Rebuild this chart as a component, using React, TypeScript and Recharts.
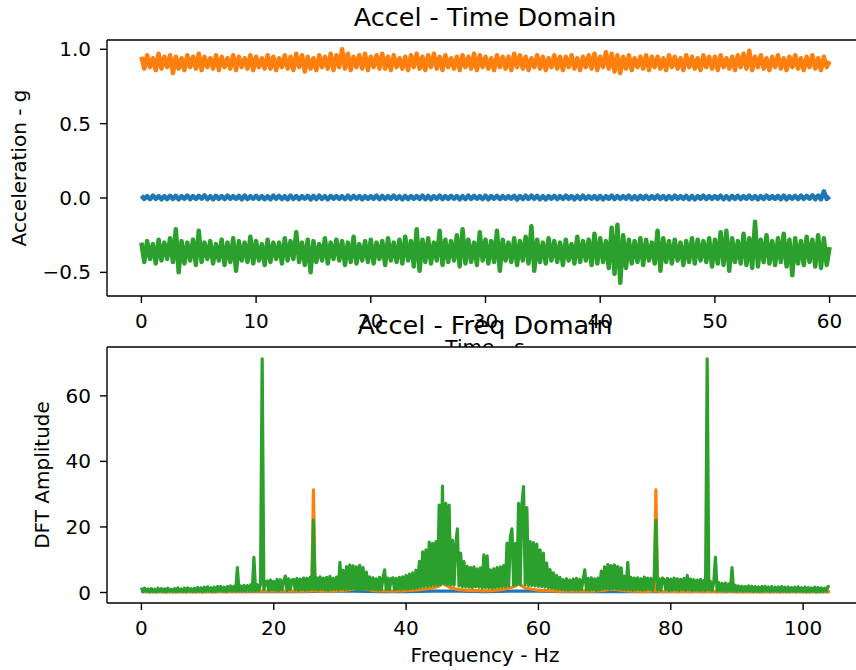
import { LineChart, Line, XAxis, YAxis, ReferenceLine } from 'recharts';

// matplotlib tab10
const C_BLUE = '#1f77b4';
const C_ORANGE = '#ff7f0e';
const C_GREEN = '#2ca02c';
const FONT = 'DejaVu Sans';

// ---- time domain: samples every 0.25 s, 0..60 s ----
const TIME_STEP = 0.25;

const ACC_X = [
  0.015, -0.006, 0.012, -0.008, 0.016, -0.005, 0.013, -0.009,
  0.012, -0.007, 0.015, -0.006, 0.014, -0.009, 0.012, -0.005,
  0.016, -0.008, 0.013, -0.006, 0.014, -0.005, 0.018, -0.008,
  0.012, -0.009, 0.015, -0.006, 0.013, -0.007, 0.016, -0.005,
  0.012, -0.006, 0.014, -0.009, 0.016, -0.007, 0.012, -0.005,
  0.015, -0.006, 0.013, -0.008, 0.012, -0.009, 0.016, -0.005,
  0.014, -0.007, 0.012, -0.009, 0.016, -0.006, 0.013, -0.008,
  0.012, -0.005, 0.015, -0.010, 0.014, -0.007, 0.016, -0.006,
  0.012, -0.009, 0.014, -0.005, 0.013, -0.006, 0.012, -0.008,
  0.016, -0.007, 0.014, -0.005, 0.013, -0.009, 0.012, -0.006,
  0.012, -0.005, 0.016, -0.008, 0.014, -0.007, 0.013, -0.005,
  0.016, -0.006, 0.012, -0.009, 0.014, -0.007, 0.013, -0.005,
  0.012, -0.006, 0.016, -0.008, 0.014, -0.009, 0.013, -0.005,
  0.016, -0.007, 0.012, -0.006, 0.014, -0.005, 0.013, -0.009,
  0.012, -0.008, 0.016, -0.006, 0.014, -0.005, 0.012, -0.007,
  0.016, -0.009, 0.013, -0.005, 0.014, -0.007, 0.012, -0.006,
  0.012, -0.005, 0.014, -0.010, 0.013, -0.007, 0.016, -0.006,
  0.016, -0.005, 0.014, -0.008, 0.012, -0.009, 0.013, -0.005,
  0.014, -0.007, 0.012, -0.006, 0.016, -0.005, 0.013, -0.009,
  0.014, -0.007, 0.016, -0.006, 0.012, -0.005, 0.013, -0.008,
  0.014, -0.009, 0.012, -0.005, 0.016, -0.007, 0.013, -0.006,
  0.013, -0.005, 0.016, -0.008, 0.012, -0.009, 0.014, -0.006,
  0.014, -0.007, 0.012, -0.005, 0.016, -0.006, 0.013, -0.009,
  0.013, -0.007, 0.016, -0.005, 0.012, -0.006, 0.014, -0.008,
  0.014, -0.009, 0.012, -0.005, 0.016, -0.007, 0.013, -0.006,
  0.013, -0.005, 0.016, -0.008, 0.012, -0.009, 0.014, -0.006,
  0.014, -0.007, 0.012, -0.005, 0.016, -0.006, 0.013, -0.009,
  0.013, -0.007, 0.016, -0.005, 0.012, -0.006, 0.014, -0.008,
  0.016, -0.009, 0.012, -0.005, 0.014, -0.007, 0.016, -0.006,
  0.014, -0.005, 0.018, -0.008, 0.016, -0.009, 0.045, -0.006,
  0.010,
];

const ACC_Y = [
  0.95, 0.87, 0.96, 0.88, 0.94, 0.86, 0.97, 0.87,
  0.95, 0.88, 0.96, 0.84, 0.95, 0.87, 0.94, 0.86,
  0.96, 0.88, 0.95, 0.87, 0.97, 0.86, 0.95, 0.88,
  0.94, 0.87, 0.96, 0.86, 0.95, 0.88, 0.94, 0.87,
  0.96, 0.86, 0.95, 0.88, 0.94, 0.87, 0.96, 0.86,
  0.95, 0.88, 0.94, 0.87, 0.96, 0.87, 0.95, 0.86,
  0.94, 0.88, 0.96, 0.87, 0.95, 0.86, 0.97, 0.88,
  0.96, 0.85, 0.95, 0.87, 0.94, 0.86, 0.96, 0.88,
  0.95, 0.87, 0.97, 0.86, 0.96, 0.88, 1.00, 0.87,
  0.97, 0.86, 0.95, 0.88, 0.96, 0.87, 0.97, 0.86,
  0.95, 0.88, 0.96, 0.87, 0.97, 0.87, 0.95, 0.86,
  0.96, 0.88, 0.94, 0.87, 0.95, 0.86, 0.96, 0.88,
  0.97, 0.87, 0.95, 0.86, 0.96, 0.88, 0.97, 0.87,
  0.95, 0.86, 0.96, 0.88, 0.94, 0.87, 0.95, 0.86,
  0.96, 0.88, 0.95, 0.87, 0.97, 0.86, 0.96, 0.88,
  0.95, 0.87, 0.94, 0.86, 0.96, 0.88, 0.95, 0.87,
  0.95, 0.86, 0.97, 0.88, 0.96, 0.87, 0.95, 0.86,
  0.94, 0.88, 0.96, 0.87, 0.95, 0.86, 0.94, 0.88,
  0.96, 0.87, 0.95, 0.86, 0.95, 0.88, 0.96, 0.87,
  0.94, 0.86, 0.95, 0.88, 0.96, 0.87, 0.97, 0.86,
  0.95, 0.88, 0.98, 0.87, 0.97, 0.85, 0.96, 0.84,
  0.95, 0.87, 0.96, 0.86, 0.94, 0.88, 0.95, 0.87,
  0.96, 0.86, 0.95, 0.88, 0.95, 0.87, 0.94, 0.86,
  0.96, 0.88, 0.95, 0.87, 0.94, 0.86, 0.96, 0.88,
  0.95, 0.87, 0.94, 0.86, 0.96, 0.88, 0.95, 0.87,
  0.95, 0.86, 0.96, 0.88, 0.94, 0.87, 0.95, 0.86,
  0.96, 0.88, 0.97, 0.87, 0.99, 0.86, 0.95, 0.88,
  0.96, 0.87, 0.94, 0.86, 0.95, 0.88, 0.96, 0.87,
  0.94, 0.86, 0.95, 0.88, 0.96, 0.87, 0.94, 0.86,
  0.95, 0.88, 0.96, 0.87, 0.94, 0.86, 0.95, 0.88,
  0.92,
];

const ACC_Z = [
  -0.30, -0.43, -0.29, -0.41, -0.31, -0.44, -0.28, -0.42,
  -0.30, -0.41, -0.27, -0.43, -0.21, -0.50, -0.29, -0.44,
  -0.30, -0.42, -0.28, -0.45, -0.22, -0.43, -0.30, -0.41,
  -0.29, -0.44, -0.31, -0.42, -0.28, -0.45, -0.30, -0.43,
  -0.27, -0.49, -0.29, -0.42, -0.30, -0.43, -0.26, -0.44,
  -0.29, -0.42, -0.31, -0.45, -0.28, -0.43, -0.30, -0.41,
  -0.30, -0.44, -0.27, -0.42, -0.29, -0.41, -0.23, -0.43,
  -0.30, -0.45, -0.28, -0.50, -0.29, -0.43, -0.31, -0.42,
  -0.27, -0.44, -0.30, -0.41, -0.28, -0.42, -0.29, -0.45,
  -0.30, -0.43, -0.26, -0.44, -0.31, -0.42, -0.29, -0.43,
  -0.28, -0.44, -0.30, -0.41, -0.29, -0.45, -0.27, -0.42,
  -0.30, -0.43, -0.28, -0.44, -0.26, -0.42, -0.29, -0.46,
  -0.21, -0.49, -0.28, -0.43, -0.27, -0.44, -0.30, -0.42,
  -0.22, -0.45, -0.28, -0.43, -0.29, -0.42, -0.25, -0.46,
  -0.21, -0.44, -0.28, -0.43, -0.30, -0.45, -0.23, -0.42,
  -0.28, -0.44, -0.29, -0.43, -0.22, -0.49, -0.28, -0.42,
  -0.30, -0.43, -0.27, -0.45, -0.29, -0.42, -0.26, -0.44,
  -0.19, -0.49, -0.28, -0.43, -0.30, -0.44, -0.27, -0.42,
  -0.29, -0.43, -0.30, -0.45, -0.28, -0.42, -0.31, -0.44,
  -0.26, -0.43, -0.29, -0.42, -0.28, -0.45, -0.24, -0.44,
  -0.27, -0.43, -0.29, -0.47, -0.20, -0.51, -0.18, -0.57,
  -0.25, -0.47, -0.28, -0.44, -0.29, -0.43, -0.27, -0.45,
  -0.28, -0.42, -0.30, -0.44, -0.22, -0.49, -0.27, -0.43,
  -0.29, -0.44, -0.28, -0.42, -0.30, -0.45, -0.29, -0.43,
  -0.27, -0.44, -0.28, -0.42, -0.29, -0.43, -0.27, -0.46,
  -0.28, -0.44, -0.23, -0.45, -0.22, -0.49, -0.27, -0.43,
  -0.29, -0.44, -0.24, -0.45, -0.27, -0.47, -0.16, -0.46,
  -0.28, -0.43, -0.25, -0.44, -0.29, -0.45, -0.27, -0.43,
  -0.24, -0.46, -0.28, -0.52, -0.27, -0.44, -0.29, -0.45,
  -0.26, -0.43, -0.28, -0.46, -0.25, -0.47, -0.27, -0.45,
  -0.33,
];

const TIME_TICKS = [0, 10, 20, 30, 40, 50, 60];
const ACC_TICKS = [-0.5, 0, 0.5, 1.0];

// ---- frequency domain ----
// z axis on a 0.25 Hz grid, 0..104 Hz
const FREQ_STEP = 0.25;
const DFT_Z = [
  1.5, 0.3, 1.3, 0.4, 1.1, 0.2, 1.2, 0.3, 1.0, 0.2, 1.3, 0.4,
  1.2, 0.3, 1.1, 0.2, 1.3, 0.4, 1.0, 0.3, 1.2, 0.2, 1.4, 0.4,
  1.1, 0.3, 1.3, 0.2, 1.4, 0.4, 1.2, 0.3, 1.3, 0.3, 1.5, 0.4,
  1.4, 0.2, 1.6, 0.4, 1.7, 0.4, 1.5, 0.3, 1.6, 0.3, 1.8, 0.5,
  1.9, 0.4, 1.6, 0.3, 1.8, 0.5, 2.0, 0.4, 1.9, 0.4, 7.6, 0.5,
  2.0, 0.4, 2.2, 0.5, 2.1, 0.6, 2.3, 0.5, 10.7, 0.5, 2.4, 0.6,
  2.6, 71.3, 0.8, 3.2, 3.5, 0.6, 3.8, 0.8, 3.4, 0.7, 4.0, 0.6,
  3.9, 0.8, 3.6, 5.0, 0.6, 4.2, 0.9, 3.8, 4.0, 0.8, 4.3, 0.7,
  4.1, 0.9, 4.4, 0.7, 4.3, 0.8, 4.6, 1.0, 22.1, 0.9, 4.5, 0.8,
  4.8, 1.0, 4.4, 0.8, 4.6, 0.7, 4.9, 0.9, 4.3, 1.0, 4.7, 0.8,
  9.2, 1.1, 6.8, 0.9, 7.9, 1.0, 8.4, 1.2, 8.1, 1.1, 7.8, 1.0,
  8.3, 0.9, 7.6, 1.1, 6.2, 0.8, 4.8, 1.0, 4.5, 0.9, 4.2, 0.7,
  4.6, 0.8, 4.3, 6.9, 0.8, 4.4, 0.9, 4.2, 4.5, 0.8, 4.3, 1.0,
  4.6, 0.9, 4.8, 1.1, 5.2, 1.0, 5.6, 1.2, 6.0, 1.3, 6.8, 1.4,
  9.5, 1.6, 12.4, 1.8, 13.0, 1.9, 15.4, 2.0, 15.0, 2.2, 15.5, 2.3,
  26.7, 2.4, 32.5, 2.6, 27.2, 2.5, 26.7, 2.3, 16.0, 2.2, 14.5, 19.4,
  2.0, 12.0, 1.8, 9.4, 1.7, 8.0, 1.6, 7.6, 1.5, 7.8, 1.7, 7.2,
  1.6, 7.5, 1.4, 11.5, 1.5, 11.2, 1.4, 6.9, 1.3, 7.2, 1.5, 7.6,
  1.6, 7.8, 1.7, 8.2, 1.8, 15.1, 2.0, 17.0, 19.4, 2.2, 15.0, 2.3,
  27.2, 2.4, 26.9, 32.3, 2.4, 25.9, 2.2, 15.5, 2.1, 15.2, 2.0, 14.8,
  1.9, 13.0, 1.8, 12.0, 1.6, 9.0, 1.4, 7.0, 1.3, 6.0, 1.1, 5.2,
  1.0, 4.6, 0.9, 3.9, 0.8, 4.2, 0.7, 3.8, 0.9, 4.1, 0.8, 4.3,
  0.7, 4.0, 0.9, 3.8, 6.9, 0.8, 4.3, 0.7, 4.5, 0.9, 4.2, 0.6,
  4.4, 0.8, 6.5, 1.0, 7.8, 1.1, 8.5, 1.0, 8.2, 1.2, 8.4, 1.1,
  7.9, 1.0, 7.5, 0.9, 5.0, 0.8, 9.2, 0.9, 4.6, 0.7, 4.4, 0.8,
  4.5, 0.9, 4.2, 0.7, 4.7, 0.8, 4.4, 1.0, 4.3, 0.7, 4.5, 22.1,
  0.8, 4.2, 0.7, 4.4, 4.0, 0.8, 4.3, 0.6, 4.1, 0.7, 4.4, 0.8,
  4.2, 0.6, 4.0, 0.9, 4.3, 0.7, 5.2, 0.8, 4.1, 0.6, 3.9, 0.7,
  3.8, 0.6, 4.0, 0.7, 3.6, 0.6, 71.3, 0.8, 3.4, 0.6, 3.2, 10.7,
  0.5, 3.0, 0.6, 2.8, 0.5, 2.9, 0.4, 2.6, 0.5, 7.6, 0.4, 2.2,
  0.4, 2.0, 0.5, 1.9, 0.4, 1.8, 0.5, 2.0, 0.4, 1.9, 0.3, 1.8,
  0.4, 1.7, 0.3, 1.8, 0.4, 1.9, 0.5, 1.7, 0.3, 1.8, 0.4, 1.6,
  0.4, 1.7, 0.3, 1.8, 0.4, 1.6, 0.3, 1.7, 0.3, 1.5, 0.4, 1.6,
  0.3, 1.7, 0.4, 1.5, 0.3, 1.6, 0.2, 1.5, 0.3, 1.4, 0.4, 1.6,
  0.2, 1.5, 0.3, 1.4, 0.3, 1.3, 0.4, 1.8,
  1.6,
];

// y axis: sparse sampling plus the two narrow peaks
const DFT_Y_FREQ = [
  0, 1, 2, 3, 4, 5, 6, 7, 8, 9, 10, 11, 12, 13, 14, 15, 16, 17, 18, 19, 20,
  21, 22, 23, 24, 25, 25.75, 26, 26.25, 27, 28, 29, 30, 31, 32, 33, 34, 35,
  36, 37, 38, 39, 40, 41, 42, 43, 44, 45, 45.5, 46, 46.5, 47, 48, 49, 50,
  51, 52, 53, 54, 55, 56, 56.5, 57, 57.5, 58, 59, 60, 61, 62, 63, 64, 65,
  66, 67, 68, 69, 70, 71, 72, 73, 74, 75, 76, 77, 77.5, 77.75, 78, 79, 80,
  81, 82, 83, 84, 85, 86, 87, 88, 89, 90, 91, 92, 93, 94, 95, 96, 97, 98,
  99, 100, 101, 102, 103, 104,
];
const DFT_Y = [
  0.4, 0.3, 0.3, 0.3, 0.3, 0.3, 0.3, 0.3, 0.3, 0.3, 0.3, 0.3, 0.4, 0.3, 0.4, 0.3, 0.4, 0.4, 0.4, 0.4, 0.4,
  0.4, 0.4, 0.4, 0.4, 0.4, 0.5, 31.3, 0.5, 0.5, 0.4, 0.5, 0.6, 0.7, 1.1, 1.3, 1.0, 0.6,
  0.5, 0.5, 0.4, 0.5, 0.6, 0.7, 0.9, 1.1, 1.4, 2.0, 3.1, 2.2, 1.7, 1.3, 0.9, 0.7, 0.6,
  0.6, 0.5, 0.6, 0.8, 1.1, 1.6, 2.0, 2.9, 2.0, 1.4, 1.0, 0.7, 0.6, 0.5, 0.4, 0.4, 0.5,
  0.4, 0.5, 0.4, 0.5, 0.7, 1.0, 0.9, 0.6, 0.4, 0.4, 0.3, 0.4, 0.4, 31.3, 0.4, 0.3, 0.4,
  0.3, 0.4, 0.3, 0.4, 0.3, 0.4, 0.3, 0.3, 0.4, 0.3, 0.3, 0.3, 0.3, 0.3, 0.3, 0.3, 0.3, 0.3,
  0.3, 0.3, 0.3, 0.3, 0.3, 0.3,
];

// x axis: almost flat, hidden under the others
const DFT_X_FREQ = [
  0, 4, 8, 12, 16, 20, 24, 28, 32, 36, 40, 44, 48, 52, 56, 60, 64, 68, 72,
  76, 80, 84, 88, 92, 96, 100, 104,
];
const DFT_X = [
  0.3, 0.3, 0.3, 0.3, 0.3, 0.3, 0.3, 0.4, 0.4, 0.3, 0.3, 0.4, 0.4, 0.3, 0.4, 0.4, 0.3, 0.3, 0.3,
  0.3, 0.3, 0.3, 0.3, 0.3, 0.3, 0.3, 0.3,
];

const FREQ_TICKS = [0, 20, 40, 60, 80, 100];
const DFT_TICKS = [0, 20, 40, 60];

const timeRows = ACC_X.map((x, i) => ({ t: i * TIME_STEP, x, y: ACC_Y[i], z: ACC_Z[i] }));
const zRows = DFT_Z.map((v, i) => ({ f: i * FREQ_STEP, v }));
const yRows = DFT_Y_FREQ.map((f, i) => ({ f, v: DFT_Y[i] }));
const xRows = DFT_X_FREQ.map((f, i) => ({ f, v: DFT_X[i] }));

const TOP_DOMAIN: [number, number] = [-0.659, 1.0625];
const BOT_DOMAIN: [number, number] = [-3.2, 74.9];

const tickStyle = { fill: '#000', fontSize: 20, fontFamily: FONT };
const axisLine = { stroke: '#000', strokeWidth: 1.4 };
const tickLine = { stroke: '#000', strokeWidth: 1.4 };
const fmtMinus = (v: number, d: number) => v.toFixed(d).replace('-', '\u2212');

// dense noisy traces read as solid bands, so the top strokes are wide
const TOP_W = 4.5;
const BOT_W = 3.2;

export default function App() {
  return (
    <div style={{ position: 'absolute', left: 0, top: 0, width: 856, height: 670, overflow: 'hidden', background: '#fff' }}>
      {/* top: time domain, clipped where the lower axes start */}
      <div style={{ position: 'absolute', left: 0, top: 0, width: 856, height: 347, overflow: 'hidden' }}>
        <LineChart width={870} height={347} data={timeRows} margin={{ top: 40, right: 6, bottom: 21, left: 47 }}>
          <XAxis type="number" dataKey="t" domain={[-3, 63]} ticks={TIME_TICKS} interval={0}
            height={30} tickSize={7} tickMargin={11} axisLine={axisLine} tickLine={tickLine} tick={tickStyle} />
          <YAxis type="number" domain={TOP_DOMAIN} ticks={ACC_TICKS} interval={0} width={60}
            tickSize={7} tickMargin={9} axisLine={axisLine} tickLine={tickLine} tick={tickStyle}
            tickFormatter={(v: number) => fmtMinus(v, 1)} allowDataOverflow />
          <ReferenceLine y={TOP_DOMAIN[1]} stroke="#000" strokeWidth={1.4} ifOverflow="visible" />
          <Line dataKey="x" stroke={C_BLUE} strokeWidth={TOP_W} strokeLinejoin="round" dot={false} isAnimationActive={false} />
          <Line dataKey="y" stroke={C_ORANGE} strokeWidth={TOP_W} strokeLinejoin="round" dot={false} isAnimationActive={false} />
          <Line dataKey="z" stroke={C_GREEN} strokeWidth={TOP_W} strokeLinejoin="round" dot={false} isAnimationActive={false} />
        </LineChart>
        <svg width={856} height={370} style={{ position: 'absolute', left: 0, top: 0 }}>
          <text x={485} y={354} textAnchor="middle" fontSize={20} fontFamily={FONT} fill="#000">Time - s</text>
        </svg>
      </div>

      {/* bottom: frequency domain */}
      <div style={{ position: 'absolute', left: 0, top: 340, width: 856, height: 330, overflow: 'hidden' }}>
        <LineChart width={870} height={330} margin={{ top: 7, right: 6, bottom: 37, left: 47 }}>
          <XAxis type="number" dataKey="f" domain={[-5.2, 109.2]} ticks={FREQ_TICKS} interval={0}
            height={30} tickSize={7} tickMargin={11} axisLine={axisLine} tickLine={tickLine} tick={tickStyle}
            allowDataOverflow />
          <YAxis type="number" domain={BOT_DOMAIN} ticks={DFT_TICKS} interval={0} width={60}
            tickSize={7} tickMargin={9} axisLine={axisLine} tickLine={tickLine} tick={tickStyle}
            allowDataOverflow />
          <ReferenceLine y={BOT_DOMAIN[1]} stroke="#000" strokeWidth={1.4} ifOverflow="visible" />
          <Line data={xRows} dataKey="v" stroke={C_BLUE} strokeWidth={BOT_W} strokeLinejoin="round" dot={false} isAnimationActive={false} />
          <Line data={yRows} dataKey="v" stroke={C_ORANGE} strokeWidth={BOT_W} strokeLinejoin="round" dot={false} isAnimationActive={false} />
          <Line data={zRows} dataKey="v" stroke={C_GREEN} strokeWidth={BOT_W} strokeLinejoin="round" dot={false} isAnimationActive={false} />
        </LineChart>
      </div>

      {/* titles and axis labels */}
      <svg width={856} height={670} style={{ position: 'absolute', left: 0, top: 0, pointerEvents: 'none' }}>
        <g fontFamily={FONT} fill="#000">
          <text x={485} y={26} textAnchor="middle" fontSize={25.5}>Accel - Time Domain</text>
          <text x={485} y={334} textAnchor="middle" fontSize={25.5}>Accel - Freq Domain</text>
          <text transform="translate(26,168) rotate(-90)" textAnchor="middle" fontSize={20}>Acceleration - g</text>
          <text transform="translate(49,475) rotate(-90)" textAnchor="middle" fontSize={20}>DFT Amplitude</text>
          <text x={485} y={662} textAnchor="middle" fontSize={20}>Frequency - Hz</text>
        </g>
      </svg>
    </div>
  );
}
